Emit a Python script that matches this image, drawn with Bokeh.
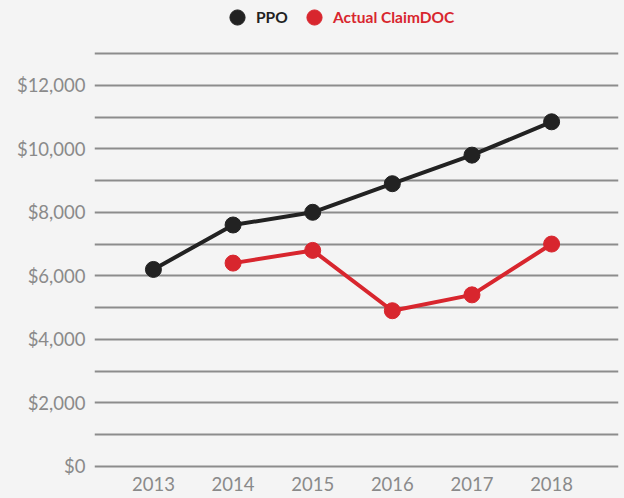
from bokeh.plotting import figure
from bokeh.models import (FixedTicker, NumeralTickFormatter, Legend, LegendItem, Range1d)
from bokeh.embed import file_html
from bokeh.resources import INLINE
from jinja2 import Template

years = [2013, 2014, 2015, 2016, 2017, 2018]
ppo = [6200, 7600, 8000, 8900, 9800, 10850]
claim_years = [2014, 2015, 2016, 2017, 2018]
claimdoc = [6400, 6800, 4900, 5400, 7000]
y_ticks = [0, 2000, 4000, 6000, 8000, 10000, 12000]
grid_ticks = list(range(0, 14000, 1000))

BG = "#f4f4f4"
BLACK = "#222222"
RED = "#d8262e"
GRAY = "#8a8a8a"
FONT = "Lato"

p = figure(width=624, height=498, output_backend="svg", toolbar_location=None,
           x_range=Range1d(2012.26, 2018.84), y_range=Range1d(-100, 14670),
           min_border_left=94, min_border_right=6, min_border_top=0, min_border_bottom=29)
p.background_fill_color = BG
p.border_fill_color = BG
p.outline_line_color = None

p.xgrid.grid_line_color = None
p.ygrid.ticker = FixedTicker(ticks=grid_ticks)
p.ygrid.grid_line_color = "#8c8c8c"
p.ygrid.grid_line_width = 2

for ax in (p.xaxis[0], p.yaxis[0]):
    ax.axis_line_color = None
    ax.major_tick_line_color = None
    ax.minor_tick_line_color = None
    ax.major_tick_out = 0
    ax.major_tick_in = 0
    ax.major_label_text_font = FONT
    ax.major_label_text_font_size = "18.5px"
    ax.major_label_text_color = GRAY

p.xaxis.ticker = FixedTicker(ticks=years)
p.xaxis.major_label_standoff = 7
p.yaxis.ticker = FixedTicker(ticks=y_ticks)
p.yaxis.formatter = NumeralTickFormatter(format="$0,0")
p.yaxis.major_label_standoff = 9

p.line(years, ppo, line_color=BLACK, line_width=4)
r_ppo = p.scatter(years, ppo, size=16, fill_color=BLACK, line_color=BLACK)
p.line(claim_years, claimdoc, line_color=RED, line_width=4)
r_claim = p.scatter(claim_years, claimdoc, size=16, fill_color=RED, line_color=RED)

def make_legend(label, rend, color, loc):
    lg = Legend(items=[LegendItem(label=label, renderers=[rend])], location=loc,
                orientation="horizontal", padding=0, margin=0, spacing=0,
                glyph_width=38, glyph_height=38, label_standoff=0,
                label_text_font=FONT, label_text_font_style="bold",
                label_text_font_size="15.5px", label_text_color=color,
                border_line_alpha=0, background_fill_alpha=0)
    p.add_layout(lg, "center")

make_legend("PPO", r_ppo, BLACK, (124, 433))
make_legend("Actual ClaimDOC", r_claim, RED, (201, 433))

template = Template("""{% extends base %}
{% block preamble %}<style>body { background: #f4f4f4; }</style>{% endblock %}""")

open("out.html", "w").write(file_html(p, INLINE, template=template))
